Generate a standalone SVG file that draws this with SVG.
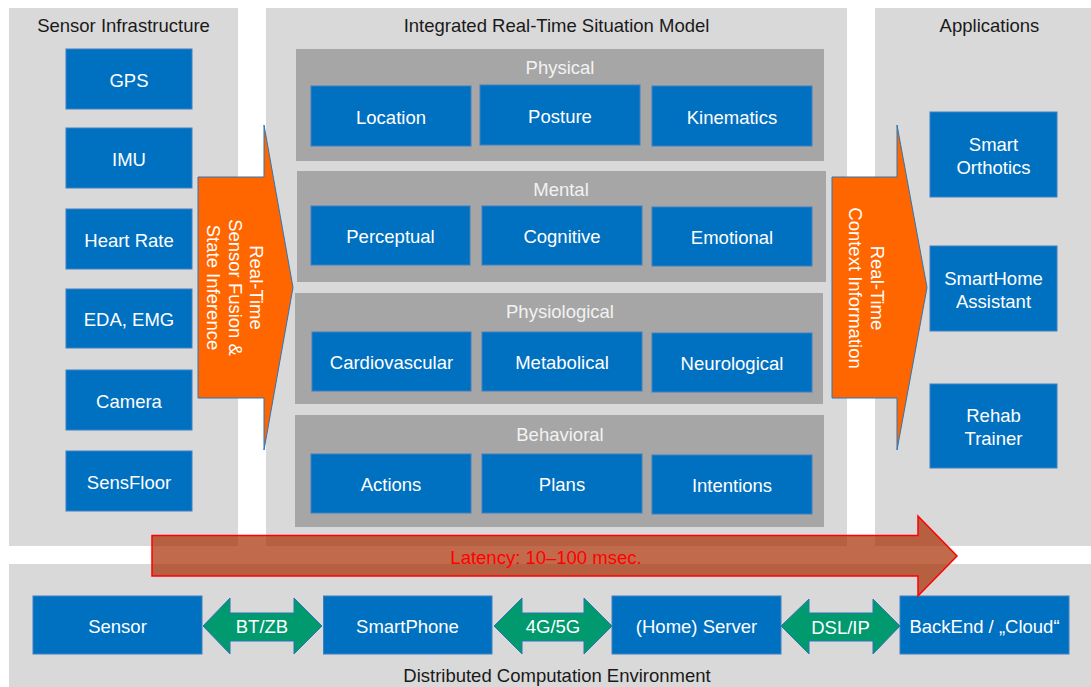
<svg xmlns="http://www.w3.org/2000/svg" width="1091" height="687" viewBox="0 0 1091 687">
<style>
text{font-family:"Liberation Sans",Arial,sans-serif;font-size:18.5px;text-anchor:middle}
.panel{fill:#D9D9D9}
.sub{fill:#A6A6A6}
.box{fill:#0070C0;stroke:#3F80C2;stroke-width:1}
.t{fill:#FFFFFF}
.st{fill:#F2F2F2}
.h{fill:#1A1A1A}
.orange{fill:#FF6600;stroke:#2E75B6;stroke-width:1}
.green{fill:#009A6E;stroke:#2E75B6;stroke-width:1}
.lat{fill:#A82C00;fill-opacity:0.7;stroke:#FF0000;stroke-width:1.5}
</style>
<rect width="1091" height="687" fill="#FFFFFF"/>

<g id="panel-sensors">
<rect class="panel" x="9" y="8" width="229" height="538"/>
<text class="h" x="123.5" y="32">Sensor Infrastructure</text>
</g>
<g id="panel-model">
<rect class="panel" x="266" y="8" width="581" height="538"/>
<text class="h" x="556.5" y="32">Integrated Real-Time Situation Model</text>
</g>
<g id="panel-apps">
<rect class="panel" x="875" y="8" width="229" height="538"/>
<text class="h" x="989.5" y="32">Applications</text>
</g>
<g id="panel-distributed">
<rect class="panel" x="9" y="564" width="1082" height="123"/>
<text class="h" x="557" y="682">Distributed Computation Environment</text>
</g>

<g id="gps"><rect class="box" x="66" y="49" width="126" height="60"/><text class="t" x="129" y="86.5">GPS</text></g>
<g id="imu"><rect class="box" x="66" y="128" width="126" height="60"/><text class="t" x="129" y="165.5">IMU</text></g>
<g id="heart-rate"><rect class="box" x="66" y="209" width="126" height="60"/><text class="t" x="129" y="246.5">Heart Rate</text></g>
<g id="eda-emg"><rect class="box" x="66" y="289" width="126" height="59"/><text class="t" x="129" y="326">EDA, EMG</text></g>
<g id="camera"><rect class="box" x="66" y="370" width="126" height="60"/><text class="t" x="129" y="407.5">Camera</text></g>
<g id="sensfloor"><rect class="box" x="66" y="451" width="126" height="60"/><text class="t" x="129" y="488.5">SensFloor</text></g>

<g id="physical">
<rect class="sub" x="296" y="49" width="528" height="112"/>
<text class="st" x="560" y="74">Physical</text>
</g>
<g id="location"><rect class="box" x="311" y="86" width="160" height="60"/><text class="t" x="391" y="123.5">Location</text></g>
<g id="posture"><rect class="box" x="480" y="85" width="160" height="60"/><text class="t" x="560" y="122.5">Posture</text></g>
<g id="kinematics"><rect class="box" x="652" y="86" width="160" height="60"/><text class="t" x="732" y="123.5">Kinematics</text></g>

<g id="mental">
<rect class="sub" x="297" y="171" width="529" height="111"/>
<text class="st" x="561" y="196">Mental</text>
</g>
<g id="perceptual"><rect class="box" x="311" y="206" width="159" height="59"/><text class="t" x="390.5" y="243">Perceptual</text></g>
<g id="cognitive"><rect class="box" x="482" y="206" width="160" height="59"/><text class="t" x="562" y="243">Cognitive</text></g>
<g id="emotional"><rect class="box" x="652" y="207" width="160" height="59"/><text class="t" x="732" y="244">Emotional</text></g>

<g id="physiological">
<rect class="sub" x="295" y="293" width="528" height="111"/>
<text class="st" x="560" y="318">Physiological</text>
</g>
<g id="cardiovascular"><rect class="box" x="312" y="332" width="159" height="59"/><text class="t" x="391.5" y="369">Cardiovascular</text></g>
<g id="metabolical"><rect class="box" x="482" y="332" width="160" height="59"/><text class="t" x="562" y="369">Metabolical</text></g>
<g id="neurological"><rect class="box" x="652" y="333" width="160" height="59"/><text class="t" x="732" y="370">Neurological</text></g>

<g id="behavioral">
<rect class="sub" x="295" y="415" width="529" height="112"/>
<text class="st" x="560" y="441">Behavioral</text>
</g>
<g id="actions"><rect class="box" x="311" y="454" width="160" height="59"/><text class="t" x="391" y="491">Actions</text></g>
<g id="plans"><rect class="box" x="482" y="454" width="160" height="59"/><text class="t" x="562" y="491">Plans</text></g>
<g id="intentions"><rect class="box" x="652" y="455" width="160" height="59"/><text class="t" x="732" y="492">Intentions</text></g>

<g id="smart-orthotics"><rect class="box" x="930" y="112" width="127" height="85"/><text class="t" x="993.5" y="150.5">Smart</text><text class="t" x="993.5" y="173.5">Orthotics</text></g>
<g id="smarthome-assistant"><rect class="box" x="930" y="246" width="127" height="85"/><text class="t" x="993.5" y="284.5">SmartHome</text><text class="t" x="993.5" y="307.5">Assistant</text></g>
<g id="rehab-trainer"><rect class="box" x="930" y="384" width="127" height="84"/><text class="t" x="993.5" y="422">Rehab</text><text class="t" x="993.5" y="445">Trainer</text></g>

<g id="sensor"><rect class="box" x="33" y="596" width="169" height="58"/><text class="t" x="117.5" y="632.5">Sensor</text></g>
<g id="smartphone"><rect class="box" x="323.5" y="596" width="168.5" height="58"/><text class="t" x="407.5" y="632.5">SmartPhone</text></g>
<g id="home-server"><rect class="box" x="612" y="596" width="169" height="58"/><text class="t" x="696.5" y="632.5">(Home) Server</text></g>
<g id="backend"><rect class="box" x="900" y="596" width="169" height="58"/><text class="t" x="984.5" y="632.5">BackEnd / „Cloud“</text></g>

<g id="connectors">
<g id="fusion-arrow">
<polygon class="orange" points="198,177 264,177 264,125 293,287.5 264,450 264,398 198,398"/>
<g transform="translate(235,287.5) rotate(90)">
<text class="t" y="-15">Real-Time</text>
<text class="t" y="6.5">Sensor Fusion &amp;</text>
<text class="t" y="28">State Inference</text>
</g>
</g>
<g id="context-arrow">
<polygon class="orange" points="832,177 897,177 897,125 927,287.5 897,450 897,398 832,398"/>
<g transform="translate(866.5,288) rotate(90)">
<text class="t" y="-4.5">Real-Time</text>
<text class="t" y="17.5">Context Information</text>
</g>
</g>
<g id="latency-arrow">
<polygon class="lat" points="152,535.5 918,535.5 918,516 957,556 918,596 918,576 152,576"/>
<text x="546" y="564" fill="#FF0000">Latency: 10–100 msec.</text>
</g>
<g id="bt-zb">
<polygon class="green" points="203,626 230,598 230,613 294,613 294,598 322,626 294,654 294,641 230,641 230,654"/>
<text class="t" x="262" y="633">BT/ZB</text>
</g>
<g id="g4-5g">
<polygon class="green" points="494,626 522,598 522,613 584,613 584,598 612,626 584,654 584,641 522,641 522,654"/>
<text class="t" x="553" y="633">4G/5G</text>
</g>
<g id="dsl-ip">
<polygon class="green" points="781,626 809,599 809,613 873,613 873,599 900,626 873,654 873,641 809,641 809,654"/>
<text class="t" x="840.5" y="634">DSL/IP</text>
</g>
</g>
</svg>
